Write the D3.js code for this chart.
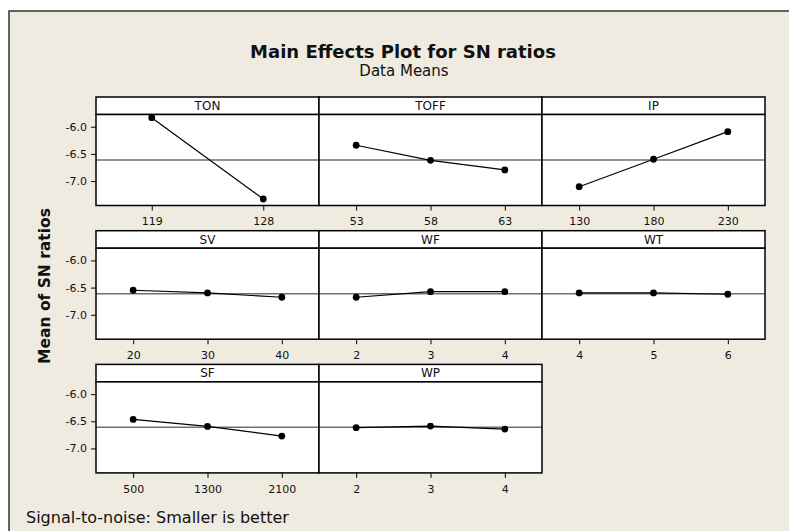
<!DOCTYPE html>
<html lang="en">
<head>
  <meta charset="UTF-8">
  <title>Main Effects Plot for SN ratios</title>
  <style>
    body { margin: 0; background: #fff; }
    svg text { font-family: "DejaVu Sans", Verdana, sans-serif; fill: #111; }
  </style>
</head>
<body>
  <script src="https://cdn.jsdelivr.net/npm/d3@7/dist/d3.min.js"></script>
  <script>
    var width = 789;
    var height = 531;

    // data
    var factors = ["TON", "TOFF", "IP", "SV", "WF", "WT", "SF", "WP"];
    var levels = [
      ["119", "128"],
      ["53", "58", "63"],
      ["130", "180", "230"],
      ["20", "30", "40"],
      ["2", "3", "4"],
      ["4", "5", "6"],
      ["500", "1300", "2100"],
      ["2", "3", "4"]
    ];
    var snMeans = [
      [-5.833, -7.330],
      [-6.341, -6.618, -6.796],
      [-7.104, -6.599, -6.091],
      [-6.549, -6.599, -6.678],
      [-6.678, -6.575, -6.575],
      [-6.599, -6.599, -6.623],
      [-6.465, -6.594, -6.772],
      [-6.618, -6.588, -6.643]
    ];
    var grandMean = -6.612;
    var yTicks = [-6.0, -6.5, -7.0];

    // layout
    var gridLeft = 96, colW = 223, gridTop = 97, rowPitch = 133.7;
    var headH = 17.5, plotH = 91;

    var svg = d3.select("body")
      .append("svg")
      .attr("width", width)
      .attr("height", height);

    // beige frame
    svg.append("rect")
      .attr("x", 9).attr("y", 11)
      .attr("width", width).attr("height", height)
      .style("fill", "#efebe1")
      .style("stroke", "#333")
      .style("stroke-width", 1.5);

    svg.append("text")
      .attr("x", 403).attr("y", 57.5)
      .attr("text-anchor", "middle")
      .style("font-size", "18px").style("font-weight", "bold")
      .text("Main Effects Plot for SN ratios");

    svg.append("text")
      .attr("x", 404).attr("y", 75.7)
      .attr("text-anchor", "middle")
      .style("font-size", "15px")
      .text("Data Means");

    svg.append("text")
      .attr("transform", "translate(50,286) rotate(-90)")
      .attr("text-anchor", "middle")
      .style("font-size", "15.5px").style("font-weight", "bold")
      .text("Mean of SN ratios");

    svg.append("text")
      .attr("x", 26).attr("y", 522.7)
      .style("font-size", "16px")
      .text("Signal-to-noise: Smaller is better");

    var y = d3.scaleLinear()
      .domain([-7.45, -5.775])
      .range([plotH, 0]);

    var line = d3.line()
      .x(function (d) { return d.x; })
      .y(function (d) { return y(d.v); });

    factors.forEach(function (name, i) {
      var col = i % 3, row = Math.floor(i / 3);
      var g = svg.append("g")
        .attr("transform", "translate(" + (gridLeft + col * colW) + "," + (gridTop + row * rowPitch) + ")");

      var x = d3.scalePoint()
        .domain(levels[i])
        .range([0, colW])
        .padding(0.5);

      // header strip
      g.append("rect")
        .attr("width", colW).attr("height", headH)
        .style("fill", "#fff").style("stroke", "#000").style("stroke-width", 1.5);
      g.append("text")
        .attr("x", colW / 2).attr("y", 13)
        .attr("text-anchor", "middle")
        .style("font-size", "12px")
        .text(name);

      var p = g.append("g").attr("transform", "translate(0," + headH + ")");
      p.append("rect")
        .attr("width", colW).attr("height", plotH)
        .style("fill", "#fff");

      // reference line at the grand mean
      p.append("line")
        .attr("x1", 0).attr("x2", colW)
        .attr("y1", y(grandMean)).attr("y2", y(grandMean))
        .style("stroke", "#707070").style("stroke-width", 1.5);

      var pts = snMeans[i].map(function (v, j) { return { x: x(levels[i][j]), v: v }; });
      p.append("path")
        .datum(pts)
        .attr("d", line)
        .style("fill", "none").style("stroke", "#000").style("stroke-width", 1.2);
      p.selectAll("circle")
        .data(pts)
        .enter()
        .append("circle")
        .attr("cx", function (d) { return d.x; })
        .attr("cy", function (d) { return y(d.v); })
        .attr("r", 3.4)
        .style("fill", "#000");

      p.append("rect")
        .attr("width", colW).attr("height", plotH)
        .style("fill", "none").style("stroke", "#000").style("stroke-width", 1.5);

      // x axis
      var xa = p.append("g")
        .attr("transform", "translate(0," + plotH + ")")
        .call(d3.axisBottom(x).tickSize(5).tickPadding(7));
      xa.select(".domain").remove();
      xa.selectAll("text").style("font-size", "11px").style("font-family", "DejaVu Sans");
      xa.selectAll("line").style("stroke", "#000");

      // y axis only in first column
      if (col === 0) {
        var ya = p.append("g")
          .call(d3.axisLeft(y).tickValues(yTicks)
            .tickFormat(function (d) { return d.toFixed(1); })
            .tickSize(5).tickPadding(4));
        ya.select(".domain").remove();
        ya.selectAll("text").style("font-size", "11px").style("font-family", "DejaVu Sans");
        ya.selectAll("line").style("stroke", "#000");
      }
    });
  </script>
</body>
</html>
